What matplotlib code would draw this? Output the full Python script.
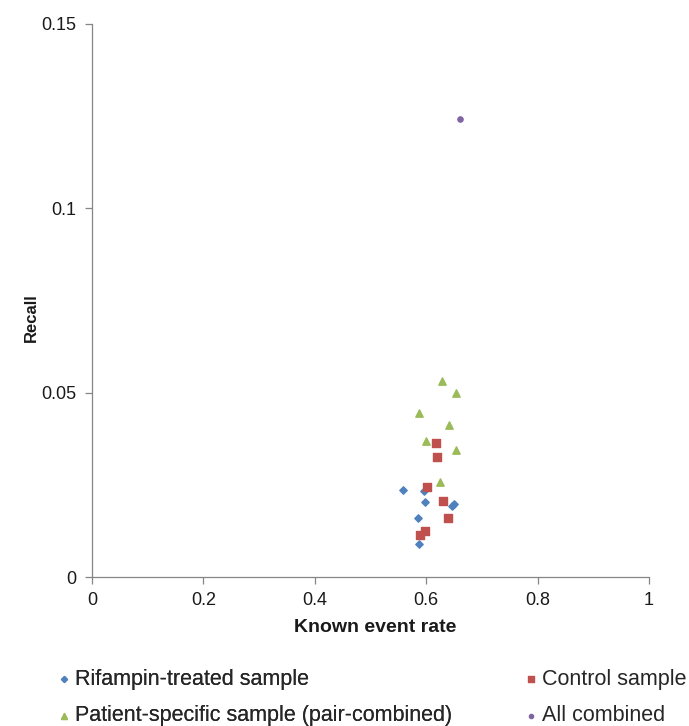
import matplotlib.pyplot as plt

plt.rcParams['font.family'] = ['Liberation Sans', 'DejaVu Sans']

# Known event rate (x) and recall (y) for each sample group
rifampin_rate = [0.559, 0.596, 0.598, 0.646, 0.650, 0.585, 0.587]
rifampin_recall = [0.0237, 0.0233, 0.0204, 0.0193, 0.0198, 0.0159, 0.0090]

control_rate = [0.617, 0.619, 0.602, 0.630, 0.639, 0.598, 0.589]
control_recall = [0.0364, 0.0325, 0.0243, 0.0207, 0.0159, 0.0126, 0.0113]

patient_rate = [0.628, 0.654, 0.587, 0.641, 0.600, 0.654, 0.625]
patient_recall = [0.0532, 0.0500, 0.0445, 0.0412, 0.0370, 0.0344, 0.0257]

combined_rate = [0.661]
combined_recall = [0.1242]

x_ticks = [0, 0.2, 0.4, 0.6, 0.8, 1]
x_labels = ['0', '0.2', '0.4', '0.6', '0.8', '1']
y_ticks = [0, 0.05, 0.1, 0.15]
y_labels = ['0', '0.05', '0.1', '0.15']

W, H = 689, 726
fig = plt.figure(figsize=(W / 100, H / 100), dpi=100)
# plot area: x from 92 to 649 px, y from 24 to 577 px
ax = fig.add_axes([92 / W, 1 - 577 / H, (649 - 92) / W, (577 - 24) / H])

h_rif = ax.scatter(rifampin_rate, rifampin_recall, marker='D', s=14,
                   color='#4F81BD', label='Rifampin-treated sample', zorder=3)
h_ctl = ax.scatter(control_rate, control_recall, marker='s', s=26,
                   color='#C0504D', label='Control sample', zorder=3)
h_pat = ax.scatter(patient_rate, patient_recall, marker='^', s=28,
                   color='#9BBB59', label='Patient-specific sample (pair-combined)', zorder=3)
h_all = ax.scatter(combined_rate, combined_recall, marker='o', s=14,
                   color='#8064A2', label='All combined', zorder=3)

ax.set_xlim(0, 1)
ax.set_ylim(0, 0.15)
ax.set_xticks(x_ticks)
ax.set_xticklabels(x_labels)
ax.set_yticks(y_ticks)
ax.set_yticklabels(y_labels)

for side in ['top', 'right']:
    ax.spines[side].set_visible(False)
for side in ['left', 'bottom']:
    ax.spines[side].set_color('#868686')
    ax.spines[side].set_linewidth(0.9)
ax.tick_params(direction='out', length=5, width=0.9, color='#868686',
               labelsize=13, labelcolor='#1a1a1a', pad=6)

ax.set_xlabel('Known event rate', fontsize=14, fontweight='bold', color='#1a1a1a')
ax.xaxis.set_label_coords((375 - 92) / (649 - 92), -(619 - 577) / (577 - 24))
ax.set_ylabel('Recall', fontsize=12, fontweight='bold', color='#1a1a1a')
ax.yaxis.set_label_coords(-(92 - 39) / (649 - 92), (577 - 318) / (577 - 24))

# two legend columns placed separately
legend_kw = dict(loc='center left', frameon=False, fontsize=15.5,
                 handlelength=0.4, handletextpad=0.3, labelspacing=0.72,
                 borderpad=0, borderaxespad=0, markerscale=0.8,
                 labelcolor='#262626')
leg1 = fig.legend(handles=[h_rif, h_pat], bbox_to_anchor=(59.5 / W, 1 - 697.5 / H), **legend_kw)
fig.add_artist(leg1)
fig.legend(handles=[h_ctl, h_all], bbox_to_anchor=(526.5 / W, 1 - 697.5 / H), **legend_kw)

fig.savefig('out.png', dpi=100)
